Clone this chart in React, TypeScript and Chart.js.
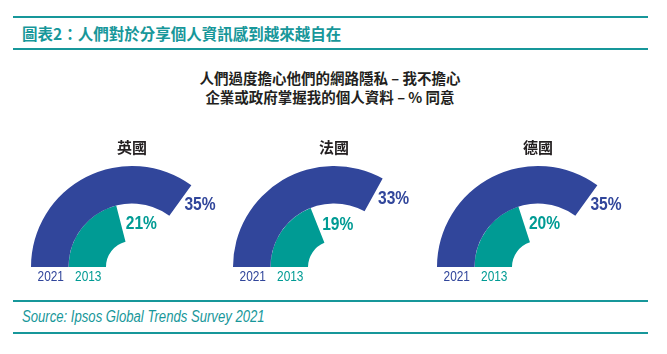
import React, { useEffect, useRef } from "react";
import { Chart, registerables } from "chart.js";

Chart.register(...registerables);

// ---- data ----
const COUNTRIES = ["英國", "法國", "德國"];
const VALUES_2021 = [35, 33, 35];
const VALUES_2013 = [21, 19, 20];
const YEAR_LABELS = ["2021", "2013"];
const GAUGE_MAX = 50;

const TITLE = "圖表2：人們對於分享個人資訊感到越來越自在";
const SUBTITLE_1 = "人們過度擔心他們的網路隱私 – 我不擔心";
const SUBTITLE_2 = "企業或政府掌握我的個人資料 – % 同意";
const SOURCE = "Source: Ipsos Global Trends Survey 2021";

// ---- styles ----
const BLUE = "#31469b";
const TEAL = "#009b94";
const LINE_TEAL = "#17979a";
const SANS = "'Liberation Sans', Arial, sans-serif";
const NARROW_SCALE = 0.82;
const CJK = "'Noto Sans CJK TC', 'Noto Sans CJK SC', sans-serif";

const CENTERS_X = [132, 334, 538];
const CANVAS_W = 220;
const CANVAS_H = 160;
const CANVAS_TOP = 130;

function narrowText(
  ctx: CanvasRenderingContext2D,
  text: string,
  x: number,
  y: number,
  align: CanvasTextAlign
) {
  ctx.save();
  ctx.translate(x, y);
  ctx.scale(NARROW_SCALE, 1);
  ctx.textAlign = align;
  ctx.textBaseline = "middle";
  ctx.fillText(text, 0, 0);
  ctx.restore();
}

const labelPlugin = {
  id: "gaugeLabels",
  afterDatasetsDraw(chart: any, _args: any, opts: any) {
    const ctx = chart.ctx as CanvasRenderingContext2D;
    const colors = [BLUE, TEAL];
    ctx.save();
    let cx = 0;
    chart.data.datasets.forEach((ds: any, i: number) => {
      const arc = chart.getDatasetMeta(i).data[0];
      const { x, y, endAngle, innerRadius, outerRadius } = arc.getProps(
        ["x", "y", "endAngle", "innerRadius", "outerRadius"],
        true
      );
      cx = x;
      const r = (innerRadius + outerRadius) / 2;
      const px = x + r * Math.cos(endAngle);
      const py = y + r * Math.sin(endAngle);
      const tx = -Math.sin(endAngle);
      const ty = Math.cos(endAngle);
      ctx.fillStyle = colors[i];
      ctx.font = `bold 19px ${SANS}`;
      narrowText(ctx, ds.data[0] + "%", px + tx * 5, py + ty * 5 + 1, "left");
      ctx.font = `14.5px ${SANS}`;
      narrowText(ctx, YEAR_LABELS[i], x - r + 1, y + 10, "center");
    });
    ctx.fillStyle = "#231f20";
    ctx.font = `bold 15px ${CJK}`;
    ctx.textAlign = "center";
    ctx.textBaseline = "middle";
    ctx.fillText(opts.country, cx, 17);
    ctx.restore();
  },
};

function Gauge({ index }: { index: number }) {
  const ref = useRef<HTMLCanvasElement | null>(null);
  useEffect(() => {
    if (!ref.current) return;
    const v21 = VALUES_2021[index];
    const v13 = VALUES_2013[index];
    const chart = new Chart(ref.current, {
      type: "doughnut",
      data: {
        labels: ["value", "rest"],
        datasets: [
          {
            data: [v21, GAUGE_MAX - v21],
            backgroundColor: [BLUE, "rgba(0,0,0,0)"],
            borderWidth: 0,
          },
          {
            data: [v13, GAUGE_MAX - v13],
            backgroundColor: [TEAL, "rgba(0,0,0,0)"],
            borderWidth: 0,
          },
        ],
      },
      options: {
        responsive: false,
        animation: false,
        rotation: -90,
        circumference: 180,
        cutout: "25.74%",
        events: [],
        layout: { padding: { left: 9, right: 9, top: 36, bottom: 23 } },
        plugins: {
          legend: { display: false },
          tooltip: { enabled: false },
          gaugeLabels: { country: COUNTRIES[index] },
        } as any,
      },
      plugins: [labelPlugin],
    });
    return () => chart.destroy();
  }, [index]);
  return (
    <canvas
      ref={ref}
      width={CANVAS_W}
      height={CANVAS_H}
      style={{
        position: "absolute",
        left: CENTERS_X[index] - CANVAS_W / 2,
        top: CANVAS_TOP,
        width: CANVAS_W,
        height: CANVAS_H,
      }}
    />
  );
}

const hLine = (top: number): React.CSSProperties => ({
  position: "absolute",
  left: 13,
  width: 635,
  top,
  height: 2,
  background: LINE_TEAL,
});

export default function App() {
  return (
    <div
      style={{
        position: "absolute",
        left: 0,
        top: 0,
        width: 667,
        height: 354,
        background: "#fff",
        overflow: "hidden",
      }}
    >
      <div style={hLine(16)} />
      <div
        style={{
          position: "absolute",
          left: 22,
          top: 23,
          lineHeight: "20px",
          fontFamily: CJK,
          fontWeight: 700,
          fontSize: 15.5,
          color: LINE_TEAL,
          whiteSpace: "nowrap",
        }}
      >
        {TITLE}
      </div>
      <div style={hLine(48)} />
      <div
        style={{
          position: "absolute",
          left: 130,
          width: 400,
          top: 68,
          textAlign: "center",
          lineHeight: "19px",
          fontFamily: CJK,
          fontWeight: 700,
          fontSize: 14.5,
          color: "#231f20",
          whiteSpace: "nowrap",
        }}
      >
        <div>{SUBTITLE_1}</div>
        <div>{SUBTITLE_2}</div>
      </div>
      {COUNTRIES.map((_, i) => (
        <Gauge key={i} index={i} />
      ))}
      <div style={hLine(300)} />
      <div
        style={{
          position: "absolute",
          left: 22,
          top: 308,
          lineHeight: "18px",
          fontFamily: SANS,
          fontStyle: "italic",
          fontSize: 16,
          color: LINE_TEAL,
          whiteSpace: "nowrap",
          transform: `scaleX(${NARROW_SCALE})`,
          transformOrigin: "left center",
        }}
      >
        {SOURCE}
      </div>
      <div style={hLine(332)} />
    </div>
  );
}
